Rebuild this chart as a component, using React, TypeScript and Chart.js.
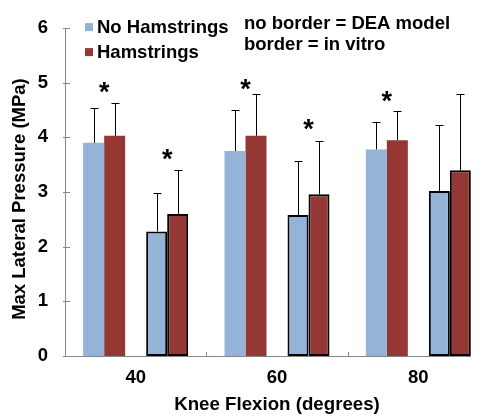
import React, { useEffect, useRef } from 'react';
import { Chart, registerables } from 'chart.js';

Chart.register(...registerables);

// ---- data ----
const categories = ['40', '60', '80'];
const deaNoHam = [3.9, 3.75, 3.78];
const deaHam = [4.03, 4.03, 3.95];
const vitroNoHam = [2.28, 2.58, 3.02];
const vitroHam = [2.6, 2.96, 3.4];
const deaNoHamSD = [0.63, 0.75, 0.5];
const deaHamSD = [0.6, 0.77, 0.53];
const vitroNoHamSD = [0.71, 0.99, 1.21];
const vitroHamSD = [0.8, 0.98, 1.4];
const deaStars: (number | null)[] = [4.91, 4.96, 4.75];
const vitroStars: (number | null)[] = [3.69, 4.23, null];
const yMin = 0;
const yMax = 6;
const yStep = 1;
const legendLabels = ['No Hamstrings', 'Hamstrings'];
const noteLines = ['no border = DEA model', 'border = in vitro'];
const xTitle = 'Knee Flexion (degrees)';
const yTitle = 'Max Lateral Pressure (MPa)';

const BLUE = '#95B3D7';
const RED = '#953735';
const AXIS = '#868686';
const FAMILY = '"Liberation Sans", Arial, Helvetica, sans-serif';

const overlay = {
  id: 'overlay',
  beforeDatasetsDraw(chart: any) {
    const { ctx, chartArea, scales } = chart;
    const x = scales.x;
    const lastMeta = chart.getDatasetMeta(4);
    const lastBar = lastMeta.data[lastMeta.data.length - 1];
    const right = lastBar.x + lastBar.width / 2;
    ctx.save();
    ctx.strokeStyle = AXIS;
    ctx.lineWidth = 1;
    ctx.beginPath();
    ctx.moveTo(chartArea.left, chartArea.bottom + 0.5);
    ctx.lineTo(right, chartArea.bottom + 0.5);
    for (let j = 0; j < categories.length - 1; j++) {
      const bx = Math.round(x.getPixelForValue(j + 0.5)) + 0.5;
      ctx.moveTo(bx, chartArea.bottom - 4);
      ctx.lineTo(bx, chartArea.bottom);
    }
    ctx.stroke();
    ctx.restore();
  },
  afterDatasetsDraw(chart: any) {
    const { ctx, scales, chartArea } = chart;
    const y = scales.y;
    ctx.save();
    // y tick marks crossing the axis
    ctx.strokeStyle = AXIS;
    ctx.lineWidth = 1;
    ctx.beginPath();
    for (let v = yMin; v <= yMax; v += yStep) {
      const py = Math.round(y.getPixelForValue(v)) + 0.5;
      ctx.moveTo(chartArea.left - 2, py);
      ctx.lineTo(chartArea.left + 5, py);
    }
    ctx.stroke();

    // error bars
    const errs: [number, number[], number[]][] = [
      [0, deaNoHam, deaNoHamSD],
      [1, deaHam, deaHamSD],
      [3, vitroNoHam, vitroNoHamSD],
      [4, vitroHam, vitroHamSD],
    ];
    ctx.strokeStyle = '#000';
    ctx.lineWidth = 1;
    ctx.beginPath();
    errs.forEach(([di, vals, sds]) => {
      const meta = chart.getDatasetMeta(di);
      vals.forEach((v, j) => {
        const bar = meta.data[j];
        const cx = Math.round(bar.x) + 0.5;
        const top = Math.round(y.getPixelForValue(v + sds[j])) + 0.5;
        ctx.moveTo(cx, bar.y);
        ctx.lineTo(cx, top);
        ctx.moveTo(cx - 4, top);
        ctx.lineTo(cx + 4, top);
      });
    });
    ctx.stroke();

    // significance stars
    ctx.fillStyle = '#000';
    ctx.font = `bold 27px ${FAMILY}`;
    ctx.textAlign = 'center';
    ctx.textBaseline = 'alphabetic';
    const m = ctx.measureText('*');
    const asc = m.actualBoundingBoxAscent;
    const desc = m.actualBoundingBoxDescent;
    const starSets: [number, number, (number | null)[]][] = [
      [0, 1, deaStars],
      [3, 4, vitroStars],
    ];
    starSets.forEach(([a, b, stars]) => {
      const ma = chart.getDatasetMeta(a);
      const mb = chart.getDatasetMeta(b);
      stars.forEach((s, j) => {
        if (s == null) return;
        const cx = (ma.data[j].x + mb.data[j].x) / 2;
        const cy = y.getPixelForValue(s);
        ctx.fillText('*', cx, cy + (asc - desc) / 2);
      });
    });
    ctx.restore();
  },
  afterDraw(chart: any) {
    const { ctx, chartArea } = chart;
    ctx.save();
    // legend
    const colors = [BLUE, RED];
    const lx = chartArea.left + 20;
    const rows = [chartArea.top - 1, chartArea.top + 24];
    ctx.font = `bold 18.5px ${FAMILY}`;
    ctx.textAlign = 'left';
    ctx.textBaseline = 'middle';
    legendLabels.forEach((t, i) => {
      ctx.fillStyle = colors[i];
      ctx.fillRect(lx, rows[i] - 4, 8, 8);
      ctx.fillStyle = '#000';
      ctx.fillText(t, lx + 12, rows[i] + 1);
    });
    // note
    ctx.font = `bold 18.5px ${FAMILY}`;
    const nx = chartArea.left + 179;
    noteLines.forEach((t, i) => {
      ctx.fillText(t, nx, chartArea.top - 4 + i * 20.5);
    });
    // y title
    ctx.font = `bold 18.5px ${FAMILY}`;
    ctx.textAlign = 'center';
    ctx.translate(20, (chartArea.top + chartArea.bottom) / 2 + 7);
    ctx.rotate(-Math.PI / 2);
    ctx.fillText(yTitle, 0, 0);
    ctx.restore();
  },
};

export default function App() {
  const ref = useRef<HTMLCanvasElement | null>(null);
  useEffect(() => {
    if (!ref.current) return;
    const font = { family: FAMILY, size: 18.5, weight: 'bold' as const };
    const titleFont = { family: FAMILY, size: 18.7, weight: 'bold' as const };
    const chart = new Chart(ref.current, {
      type: 'bar',
      data: {
        labels: categories,
        datasets: [
          { label: legendLabels[0], data: deaNoHam, backgroundColor: BLUE, borderWidth: 0 },
          { label: legendLabels[1], data: deaHam, backgroundColor: RED, borderWidth: 0 },
          { label: 'spacer', data: categories.map(() => null), backgroundColor: 'rgba(0,0,0,0)' },
          {
            label: legendLabels[0] + ' (in vitro)', data: vitroNoHam, backgroundColor: BLUE,
            borderColor: '#000', borderWidth: 2, borderSkipped: false,
          },
          {
            label: legendLabels[1] + ' (in vitro)', data: vitroHam, backgroundColor: RED,
            borderColor: '#000', borderWidth: 2, borderSkipped: false,
          },
        ],
      },
      options: {
        responsive: false,
        animation: false,
        layout: { padding: { top: 23, right: 1, left: 0, bottom: 0 } },
        datasets: { bar: { categoryPercentage: 0.743, barPercentage: 1 } },
        plugins: { legend: { display: false }, tooltip: { enabled: false } },
        scales: {
          x: {
            grid: { display: false, drawTicks: false },
            border: { display: false },
            ticks: { font, color: '#000', padding: 11 },
            title: { display: true, text: xTitle, font: titleFont, color: '#000', padding: { top: 0, bottom: 0 } },
            afterFit: (s: any) => { s.height = 60; },
          },
          y: {
            min: yMin,
            max: yMax,
            ticks: { stepSize: yStep, font, color: '#000', padding: 17 },
            grid: { display: false, drawTicks: false },
            border: { display: true, color: AXIS, width: 1 },
            title: { display: false },
            afterFit: (s: any) => { s.width = 65; },
          },
        },
      } as any,
      plugins: [overlay],
    });
    return () => chart.destroy();
  }, []);
  return (
    <div style={{ position: 'absolute', left: 0, top: 0, width: 485, height: 416, overflow: 'hidden', background: '#fff' }}>
      <canvas ref={ref} width={490} height={416} style={{ display: 'block' }} />
    </div>
  );
}
